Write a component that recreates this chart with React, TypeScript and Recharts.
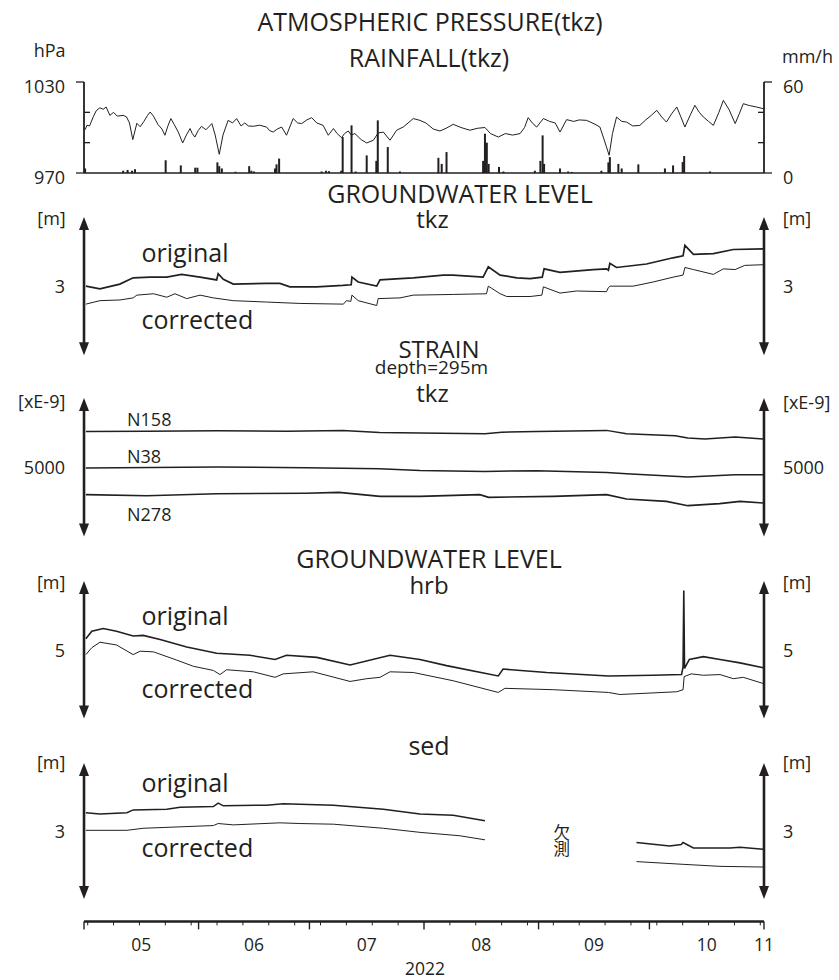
import React from "react";
import {
  ComposedChart,
  Line,
  Bar,
  XAxis,
  YAxis,
  ReferenceLine,
} from "recharts";

const INK = "#231f20";
const FONT = '"Open Sans", "Noto Sans", sans-serif';

// time axis: days counted from 2022-05-01 (0) to 2022-11-01 (184)
const X_DOMAIN: [number, number] = [0, 184];
const MONTH_STARTS = [0, 31, 61, 92, 123, 153, 184];
const MONTH_LABELS = ["05", "06", "07", "08", "09", "10", "11"];
const WEEK_TICKS = [
  1, 8, 15, 22, 29, 36, 43, 50, 57, 64, 71, 78, 85, 99, 106, 113, 120, 127,
  134, 141, 148, 155, 162, 169, 176, 183,
];

// atmospheric pressure tkz [day, hPa]
const PRESSURE: [number, number][] = [
  [0.3, 998.5], [0.8, 1001.5], [1.5, 1001], [2.5, 1007], [3.3, 1011], [4.3, 1013],
  [5.2, 1012], [6, 1013.5], [7, 1008], [8, 1010], [9, 1007.5], [10.6, 1008],
  [11.5, 1007], [12.3, 1003], [13.2, 992], [14.3, 1002.8], [15.2, 1000.5],
  [16.2, 1004], [17.2, 1008], [17.9, 1010.2], [18.8, 1007.5], [20, 1002],
  [21.1, 999], [21.9, 994.9], [22.7, 1001], [23.5, 1005.9], [24.4, 1002],
  [25.5, 997], [26.7, 989.8], [27.7, 995], [28.7, 999.3], [29.3, 996],
  [30, 993.7], [30.9, 998], [31.8, 1000.8], [33, 998.5], [34.6, 1002.6],
  [35.5, 995], [36.6, 982.3], [37.6, 995], [39, 1004.7], [40.2, 1003],
  [41.3, 1005.9], [42.5, 1001], [43.5, 1003], [44.5, 1001], [45.8, 1000.8],
  [47.5, 1001.5], [49.4, 1000.3], [50.2, 998], [51.2, 997], [52.3, 999],
  [53.5, 1000.3], [54.8, 994.9], [55.8, 1001], [56.6, 1005.9], [57.8, 1003],
  [58.9, 1002.6], [60.3, 1005], [61.6, 1006.5], [63, 1003], [64.7, 1001.4],
  [66.1, 994.9], [67.5, 999.3], [68.5, 996], [69.7, 993.3], [70.5, 996],
  [71.5, 997.7], [72.3, 995], [73.3, 996], [75, 992], [76.5, 989.8],
  [78.3, 991.6], [79.6, 996.4], [81, 997], [82.8, 991.6], [84.6, 998.2],
  [86.5, 1000.5], [89.1, 1005.9], [90.9, 1004.7], [92.5, 1003], [94.5, 999],
  [96.3, 997.7], [98, 999.5], [99.9, 1002.1], [102, 1000], [104.4, 998.2],
  [106.5, 999.5], [108.5, 1000], [110, 996], [112.1, 993.7], [114, 996],
  [116, 995], [118, 996], [119.2, 1000], [120.2, 1006.5], [121.3, 1003],
  [122.5, 1000.3], [124.3, 1005.9], [126, 1004], [127.5, 1003], [128.8, 997],
  [130.6, 1005.2], [132.5, 1004], [134, 1005], [136, 1004.7], [138, 1002.5],
  [139.6, 1000.3], [140.6, 993], [142.1, 981.7], [143, 996], [144.1, 1006.9],
  [145.5, 1004], [146.8, 1003.6], [148.5, 1001], [150.4, 1001.4], [152, 1005],
  [153.5, 1008], [155, 1011.3], [156.3, 1007], [157.6, 1003.6], [159, 1009],
  [160.4, 1013.5], [161.5, 1007], [162.6, 1000.3], [164, 1008], [165.3, 1014.6],
  [166.5, 1010], [167.6, 1006.9], [169, 1004], [170.3, 1001.4], [171.8, 1010],
  [173, 1017.9], [174.5, 1012], [176.2, 1002.6], [177.3, 1009], [178.4, 1015.7],
  [180, 1014.5], [182, 1013.5], [183.8, 1012.4],
];

// rainfall tkz [day, mm/h]
const RAIN: [number, number][] = [
  [0.3, 3], [10.6, 1.5], [11.8, 2], [13, 1.5], [13.8, 2.5], [22.1, 8.4],
  [26.2, 5], [30.1, 3.5], [30.7, 3.5], [36.1, 7], [36.6, 4.5], [37.3, 3],
  [41, 0.8], [44.7, 4.5], [45.3, 1.5], [46, 1], [51.7, 3], [52.1, 5.7],
  [52.8, 9.5], [64.3, 1], [65.5, 1.5], [66.3, 1.2], [69.6, 1.5], [70, 23.7],
  [72.4, 31.4], [73.5, 1], [76.5, 11.6], [79.1, 8], [79.5, 34.7], [82.2, 17.1],
  [85.5, 1], [95.9, 10], [96.8, 6], [98.1, 13.8], [108, 8], [108.5, 25.9],
  [109, 20], [109.5, 6], [112.3, 4], [113.5, 1], [122, 1.5], [123.5, 8],
  [124.1, 24.8], [124.5, 6], [128.8, 3], [131, 1], [132, 0.7], [140, 1.5],
  [141.9, 7], [142.3, 10.5], [144.6, 6], [145.5, 3], [150, 5.7], [157.2, 3],
  [159.4, 5], [162, 7.2], [162.4, 11.2], [169.4, 1],
];

// groundwater level tkz [day, m]
const GW_TKZ_ORIGINAL: [number, number][] = [
  [0.5, 3.0], [4.3, 2.96], [9.7, 3.03], [13.3, 3.12], [17.9, 3.13], [22.4, 3.13],
  [26.4, 3.17], [31.4, 3.13], [35.9, 3.09], [36.3, 3.18], [37.7, 3.1], [40.4, 3.03],
  [49.4, 3.04], [53, 3.04], [55.7, 2.99], [63, 2.99], [70, 3.01], [72.3, 3.02],
  [72.5, 3.13], [74.2, 3.06], [79.2, 3.0], [80.1, 3.09], [85.5, 3.11], [89.1, 3.12],
  [97.2, 3.16], [99.9, 3.16], [108, 3.13], [109.4, 3.28], [112.6, 3.16],
  [117.1, 3.12], [120.7, 3.11], [124, 3.13], [124.5, 3.25], [128.8, 3.2],
  [137.8, 3.24], [141.4, 3.25], [141.9, 3.23], [142.3, 3.33], [144.1, 3.27],
  [152.2, 3.32], [159.4, 3.41], [162.1, 3.44], [162.6, 3.59], [164.9, 3.46],
  [170.3, 3.47], [175.7, 3.53], [183.8, 3.54],
];
const GW_TKZ_CORRECTED: [number, number][] = [
  [0.5, 2.74], [4.3, 2.79], [9.7, 2.8], [13.3, 2.83], [14.3, 2.87], [18.8, 2.89],
  [22.4, 2.84], [24.6, 2.89], [27.8, 2.82], [31.4, 2.87], [35, 2.83], [40.4, 2.79],
  [49.4, 2.77], [58.4, 2.75], [70.2, 2.74], [71, 2.79], [72.2, 2.78], [72.5, 2.87],
  [74.2, 2.79], [79.2, 2.72], [79.6, 2.82], [85.5, 2.83], [89.1, 2.87], [99.9, 2.88],
  [108.9, 2.89], [109.4, 3.0], [112.6, 2.89], [114.4, 2.85], [120.7, 2.85],
  [123.9, 2.87], [124.3, 2.99], [128.8, 2.9], [133.3, 2.93], [141.4, 2.92],
  [141.9, 2.98], [142.4, 3.0], [148.6, 3.0], [154, 3.06], [159.4, 3.13],
  [162.1, 3.16], [162.6, 3.27], [164.9, 3.24], [170.3, 3.17], [173, 3.25],
  [176.2, 3.24], [178.8, 3.3], [183.8, 3.31],
];

// strain tkz, depth 295m [day, xE-9]
const STRAIN_N158: [number, number][] = [
  [0.5, 5517], [17, 5520], [35.9, 5527], [55, 5520], [70, 5532], [80, 5503],
  [90.9, 5494], [108.5, 5484], [113, 5506], [122.5, 5517], [141.4, 5532],
  [146.8, 5484], [160, 5455], [163.4, 5422], [168, 5407], [176.2, 5436],
  [183.8, 5407],
];
const STRAIN_N38: [number, number][] = [
  [0.5, 4988], [36, 5003], [60, 4993], [80, 4978], [90.9, 4954], [108.5, 4939],
  [122.5, 4949], [141.4, 4925], [146.8, 4906], [163.4, 4858], [176.2, 4892],
  [183.8, 4892],
];
const STRAIN_N278: [number, number][] = [
  [0.5, 4603], [17, 4588], [35.9, 4617], [60, 4624], [69, 4636], [80.1, 4578],
  [90.9, 4578], [107.1, 4603], [109.5, 4564], [127, 4578], [141.4, 4603],
  [146.8, 4541], [157.6, 4506], [163.4, 4444], [172, 4473], [177.5, 4506],
  [183.8, 4483],
];

// groundwater level hrb [day, m]
const GW_HRB_ORIGINAL: [number, number][] = [
  [0.5, 5.16], [2.1, 5.27], [5.2, 5.31], [8.8, 5.27], [13.3, 5.2], [16, 5.21],
  [20.6, 5.15], [27.8, 5.04], [35.9, 4.95], [44.9, 4.92], [51.7, 4.86], [54.8, 4.92],
  [63, 4.89], [72, 4.78], [82.8, 4.92], [90.9, 4.86], [98.1, 4.77], [112.1, 4.62],
  [113.4, 4.72], [125.2, 4.67], [141.9, 4.62], [154, 4.63], [161.7, 4.64],
  [162.1, 4.75], [162.3, 5.86], [162.5, 4.73], [163.8, 4.86], [167.6, 4.9],
  [172.1, 4.86], [177.5, 4.81], [183.8, 4.74],
];
const GW_HRB_CORRECTED: [number, number][] = [
  [0.5, 4.93], [2.1, 5.03], [4.3, 5.11], [8.8, 5.07], [13.3, 4.93], [15.2, 4.98],
  [18.8, 4.97], [25.1, 4.85], [29.6, 4.76], [35, 4.7], [36.8, 4.64], [38.6, 4.71],
  [45.8, 4.68], [51.7, 4.6], [53.9, 4.65], [62, 4.68], [72, 4.54], [76.5, 4.58],
  [80.1, 4.6], [82.8, 4.68], [89.1, 4.67], [99.9, 4.55], [112.1, 4.38],
  [113.9, 4.44], [127, 4.42], [141.9, 4.38], [145, 4.35], [160.4, 4.39],
  [162.1, 4.42], [162.4, 4.61], [164.3, 4.65], [167.6, 4.63], [172.1, 4.64],
  [175.7, 4.58], [178.4, 4.6], [183.8, 4.51],
];

// groundwater level sed [day, m]; null = no data (欠測)
const GW_SED_ORIGINAL: [number, number | null][] = [
  [0.5, 3.27], [4.3, 3.25], [11.6, 3.27], [13.3, 3.31], [22.4, 3.32], [26, 3.35],
  [35, 3.36], [36.3, 3.41], [37.7, 3.37], [49.4, 3.38], [53.9, 3.4], [67.5, 3.38],
  [81, 3.32], [90.9, 3.25], [99.9, 3.23], [108.5, 3.15], [120, null],
  [149.5, 2.83], [158.5, 2.78], [161.6, 2.8], [162.1, 2.83], [164.9, 2.75],
  [174.8, 2.75], [177.5, 2.76], [183.8, 2.73],
];
const GW_SED_CORRECTED: [number, number | null][] = [
  [0.5, 3.01], [11.6, 3.01], [16, 3.04], [35, 3.08], [36.3, 3.11], [40.4, 3.09],
  [53, 3.12], [58.4, 3.11], [67.5, 3.1], [81, 3.04], [90.9, 2.98], [101.7, 2.93],
  [108.5, 2.87], [120, null], [149.5, 2.55], [162.1, 2.51], [172.1, 2.48],
  [183.8, 2.47],
];

const toRows = (pairs: [number, number | null][]) =>
  pairs.map(([day, v]) => ({ day, v }));

const W = 839;
const AXIS_W = 1;
const LEFT = 84 - AXIS_W;
const RIGHT = 75 - AXIS_W;
const MT = 24;

function ArrowShape(props: any) {
  const { x1, y1, y2 } = props;
  const top = Math.min(y1, y2);
  const bot = Math.max(y1, y2);
  const hw = 5;
  const hh = 13;
  return (
    <g>
      <line x1={x1} x2={x1} y1={top + hh - 2} y2={bot - hh + 2} stroke={INK} strokeWidth={2.6} />
      <polygon points={`${x1},${top} ${x1 - hw},${top + hh} ${x1 + hw},${top + hh}`} fill={INK} />
      <polygon points={`${x1},${bot} ${x1 - hw},${bot - hh} ${x1 + hw},${bot - hh}`} fill={INK} />
    </g>
  );
}

// thin rainfall impulse, centred on its day
function RainBar(props: any) {
  const { x, y, width, height } = props;
  if (!height || height <= 0) return null;
  return <rect x={x + width / 2 - 1} y={y} width={2} height={height} fill={INK} />;
}

function ValueTick(props: any) {
  const { x, y, payload, side } = props;
  return (
    <text
      x={side === "left" ? x - 19 : x + 19}
      y={y + 7}
      textAnchor={side === "left" ? "end" : "start"}
      fontSize={18}
      fill={INK}
    >
      {payload.value}
    </text>
  );
}

function ScaleTick(props: any) {
  const { x, y, payload, side, major } = props;
  const v = payload.value;
  const isMajor = major.includes(v);
  const dir = side === "left" ? -1 : 1;
  return (
    <g>
      <line
        x1={x}
        x2={isMajor ? x + dir * 8 : x - dir * 6}
        y1={y}
        y2={y}
        stroke={INK}
        strokeWidth={1.3}
      />
      {isMajor && (
        <text
          x={x + dir * 19}
          y={y + 11}
          textAnchor={side === "left" ? "end" : "start"}
          fontSize={18}
          fill={INK}
        >
          {v}
        </text>
      )}
    </g>
  );
}

// month label positions: middle of each month, "11" sits on the last boundary
const LABEL_DAYS = MONTH_LABELS.map((_, i) =>
  i < MONTH_STARTS.length - 1 ? (MONTH_STARTS[i] + MONTH_STARTS[i + 1]) / 2 : MONTH_STARTS[i]
);
const LABEL_ONLY = LABEL_DAYS.filter((d) => !MONTH_STARTS.includes(d));
const TIME_TICKS = [...MONTH_STARTS, ...WEEK_TICKS, ...LABEL_ONLY].sort((a, b) => a - b);

function TimeTick(props: any) {
  const { x, y, payload } = props;
  const v = payload.value;
  const li = LABEL_DAYS.indexOf(v);
  const isMonth = MONTH_STARTS.includes(v);
  const isWeek = WEEK_TICKS.includes(v);
  return (
    <g>
      {isMonth && <line x1={x} x2={x} y1={y} y2={y + 8} stroke={INK} strokeWidth={1.4} />}
      {isWeek && <line x1={x} x2={x} y1={y} y2={y + 4} stroke={INK} strokeWidth={1} />}
      {li >= 0 && (
        <text x={x} y={y + 30} textAnchor="middle" fontSize={17.5} fill={INK}>
          {MONTH_LABELS[li]}
        </text>
      )}
    </g>
  );
}

function PressurePanel() {
  const plotTop = 81.7;
  const plotH = 91;
  const mb = 22;
  return (
    <div style={{ position: "absolute", left: 0, top: plotTop - MT }}>
      <ComposedChart
        width={W}
        height={plotH + MT + mb + 1}
        data={RAIN.map(([day, mm]) => ({ day, mm }))}
        margin={{ top: MT, right: RIGHT, bottom: mb, left: LEFT }}
      >
        <XAxis
          type="number"
          dataKey="day"
          domain={X_DOMAIN}
          allowDataOverflow
          height={1}
          tick={false}
          tickLine={false}
          axisLine={{ stroke: INK, strokeWidth: 1.5 }}
        />
        <YAxis
          yAxisId="p"
          width={AXIS_W}
          domain={[970, 1030]}
          ticks={[970, 990, 1010, 1030]}
          interval={0}
          allowDataOverflow
          tickSize={0}
          tickMargin={0}
          tickLine={false}
          axisLine={{ stroke: INK, strokeWidth: 1.8 }}
          tick={<ScaleTick side="left" major={[970, 1030]} />}
        />
        <YAxis
          yAxisId="r"
          orientation="right"
          width={AXIS_W}
          domain={[0, 60]}
          ticks={[0, 20, 40, 60]}
          interval={0}
          allowDataOverflow
          tickSize={0}
          tickMargin={0}
          tickLine={false}
          axisLine={{ stroke: INK, strokeWidth: 1.8 }}
          tick={<ScaleTick side="right" major={[0, 60]} />}
        />
        <Bar yAxisId="r" dataKey="mm" barSize={2} fill={INK} shape={RainBar} isAnimationActive={false} />
        <Line
          yAxisId="p"
          data={PRESSURE.map(([day, hPa]) => ({ day, hPa }))}
          dataKey="hPa"
          type="linear"
          dot={false}
          stroke={INK}
          strokeWidth={1}
          isAnimationActive={false}
        />
      </ComposedChart>
    </div>
  );
}

type Trace = { rows: { day: number; v: number | null }[]; width: number };

function TracePanel({
  plotTop,
  plotH,
  domain,
  tick,
  arrow,
  traces,
  timeAxis = false,
}: {
  plotTop: number;
  plotH: number;
  domain: [number, number];
  tick: number;
  arrow: [number, number];
  traces: Trace[];
  timeAxis?: boolean;
}) {
  const axisH = timeAxis ? 60 : 0;
  const mb = timeAxis ? 0 : 12;
  return (
    <div style={{ position: "absolute", left: 0, top: plotTop - MT }}>
      <ComposedChart
        width={W}
        height={plotH + MT + mb + axisH}
        margin={{ top: MT, right: RIGHT, bottom: mb, left: LEFT }}
      >
        {timeAxis ? (
          <XAxis
            type="number"
            dataKey="day"
            domain={X_DOMAIN}
            allowDataOverflow
            ticks={TIME_TICKS}
            interval={0}
            height={axisH}
            tickSize={0}
            tickMargin={0}
            tickLine={false}
            axisLine={{ stroke: INK, strokeWidth: 2.5 }}
            tick={<TimeTick />}
          />
        ) : (
          <XAxis type="number" dataKey="day" domain={X_DOMAIN} allowDataOverflow hide />
        )}
        <YAxis
          yAxisId="l"
          width={AXIS_W}
          domain={domain}
          ticks={[tick]}
          allowDataOverflow
          tickSize={0}
          tickMargin={0}
          tickLine={false}
          axisLine={false}
          tick={<ValueTick side="left" />}
        />
        <YAxis
          yAxisId="r"
          orientation="right"
          width={AXIS_W}
          domain={domain}
          ticks={[tick]}
          allowDataOverflow
          tickSize={0}
          tickMargin={0}
          tickLine={false}
          axisLine={false}
          tick={<ValueTick side="right" />}
        />
        <ReferenceLine
          yAxisId="l"
          segment={[{ x: X_DOMAIN[0], y: arrow[0] }, { x: X_DOMAIN[0], y: arrow[1] }]}
          shape={ArrowShape}
          ifOverflow="visible"
        />
        <ReferenceLine
          yAxisId="l"
          segment={[{ x: X_DOMAIN[1], y: arrow[0] }, { x: X_DOMAIN[1], y: arrow[1] }]}
          shape={ArrowShape}
          ifOverflow="visible"
        />
        {traces.map((t, i) => (
          <Line
            key={i}
            yAxisId="l"
            data={t.rows}
            dataKey="v"
            type="linear"
            dot={false}
            connectNulls={false}
            stroke={INK}
            strokeWidth={t.width}
            isAnimationActive={false}
          />
        ))}
      </ComposedChart>
    </div>
  );
}

type Label = { t: string; x: number; y: number; s: number };

// stacked panel titles: each block is one text element with one line per tspan
const TITLES: Label[][] = [
  [
    { t: "ATMOSPHERIC PRESSURE(tkz)", x: 430, y: 30.7, s: 25 },
    { t: "RAINFALL(tkz)", x: 429, y: 66.7, s: 25 },
  ],
  [
    { t: "GROUNDWATER LEVEL", x: 460, y: 202.7, s: 25 },
    { t: "tkz", x: 432.5, y: 228.3, s: 24 },
  ],
  [
    { t: "STRAIN", x: 439, y: 357.5, s: 24 },
    { t: "depth=295m", x: 431.5, y: 374, s: 19 },
    { t: "tkz", x: 432.5, y: 401.7, s: 24 },
  ],
  [
    { t: "GROUNDWATER LEVEL", x: 429, y: 568, s: 25 },
    { t: "hrb", x: 429, y: 593.5, s: 24 },
  ],
  [{ t: "sed", x: 429, y: 755, s: 25 }],
];

const LABELS: (Label & { a?: string })[] = [
  { t: "hPa", x: 49.7, y: 56.7, s: 18 },
  { t: "mm/h", x: 807.5, y: 62.5, s: 18 },
  { t: "[m]", x: 51.5, y: 224.5, s: 18 },
  { t: "[m]", x: 797, y: 225, s: 18 },
  { t: "original", x: 141.5, y: 261.7, s: 25, a: "start" },
  { t: "corrected", x: 141.5, y: 329.3, s: 25, a: "start" },
  { t: "[xE-9]", x: 41.7, y: 408, s: 18 },
  { t: "[xE-9]", x: 806.7, y: 409, s: 18 },
  { t: "N158", x: 127, y: 426, s: 18, a: "start" },
  { t: "N38", x: 127, y: 463.3, s: 18, a: "start" },
  { t: "N278", x: 127, y: 520.7, s: 18, a: "start" },
  { t: "[m]", x: 51.2, y: 589, s: 18 },
  { t: "[m]", x: 797, y: 589, s: 18 },
  { t: "original", x: 141.5, y: 624.5, s: 25, a: "start" },
  { t: "corrected", x: 141.5, y: 698.3, s: 25, a: "start" },
  { t: "[m]", x: 51.2, y: 769, s: 18 },
  { t: "[m]", x: 797, y: 769, s: 18 },
  { t: "original", x: 141.5, y: 792.3, s: 25, a: "start" },
  { t: "corrected", x: 141.5, y: 856.7, s: 25, a: "start" },
  { t: "2022", x: 425, y: 975, s: 17.5 },
];

export default function App() {
  return (
    <div
      style={{
        position: "absolute",
        left: 0,
        top: 0,
        width: W,
        height: 980,
        background: "#fff",
        fontFamily: FONT,
        color: INK,
        overflow: "hidden",
      }}
    >
      <PressurePanel />
      <TracePanel
        plotTop={216.7}
        plotH={138.3}
        domain={[2, 4]}
        tick={3}
        arrow={[2, 4]}
        traces={[
          { rows: toRows(GW_TKZ_ORIGINAL), width: 1.7 },
          { rows: toRows(GW_TKZ_CORRECTED), width: 1 },
        ]}
      />
      <TracePanel
        plotTop={398.3}
        plotH={138.4}
        domain={[4000, 6000]}
        tick={5000}
        arrow={[4000, 6000]}
        traces={[
          { rows: toRows(STRAIN_N158), width: 1.5 },
          { rows: toRows(STRAIN_N38), width: 1.5 },
          { rows: toRows(STRAIN_N278), width: 1.6 },
        ]}
      />
      <TracePanel
        plotTop={580.7}
        plotH={137.6}
        domain={[4, 6]}
        tick={5}
        arrow={[4, 6]}
        traces={[
          { rows: toRows(GW_HRB_ORIGINAL), width: 1.6 },
          { rows: toRows(GW_HRB_CORRECTED), width: 1 },
        ]}
      />
      <TracePanel
        plotTop={763.3}
        plotH={158.4}
        domain={[4 - 158.4 / 68, 4]}
        tick={3}
        arrow={[2, 4]}
        timeAxis
        traces={[
          { rows: toRows(GW_SED_ORIGINAL), width: 1.5 },
          { rows: toRows(GW_SED_CORRECTED), width: 1 },
        ]}
      />
      <svg
        width={W}
        height={980}
        style={{ position: "absolute", left: 0, top: 0, pointerEvents: "none" }}
      >
        {TITLES.map((block, i) => (
          <text key={`t${i}`} textAnchor="middle" fill={INK} fontFamily={FONT}>
            {block.map((l, j) => (
              <tspan key={j} x={l.x} y={l.y} fontSize={l.s}>
                {l.t}
              </tspan>
            ))}
          </text>
        ))}
        {LABELS.map((l, i) => (
          <text
            key={i}
            x={l.x}
            y={l.y}
            fontSize={l.s}
            textAnchor={l.a ?? "middle"}
            fill={INK}
            fontFamily={FONT}
          >
            {l.t}
          </text>
        ))}
        <text
          x={561.7}
          y={824}
          fontSize={16.5}
          fill={INK}
          fontFamily='"Noto Sans CJK JP"'
          style={{ writingMode: "vertical-rl" }}
        >
          欠測
        </text>
      </svg>
    </div>
  );
}
